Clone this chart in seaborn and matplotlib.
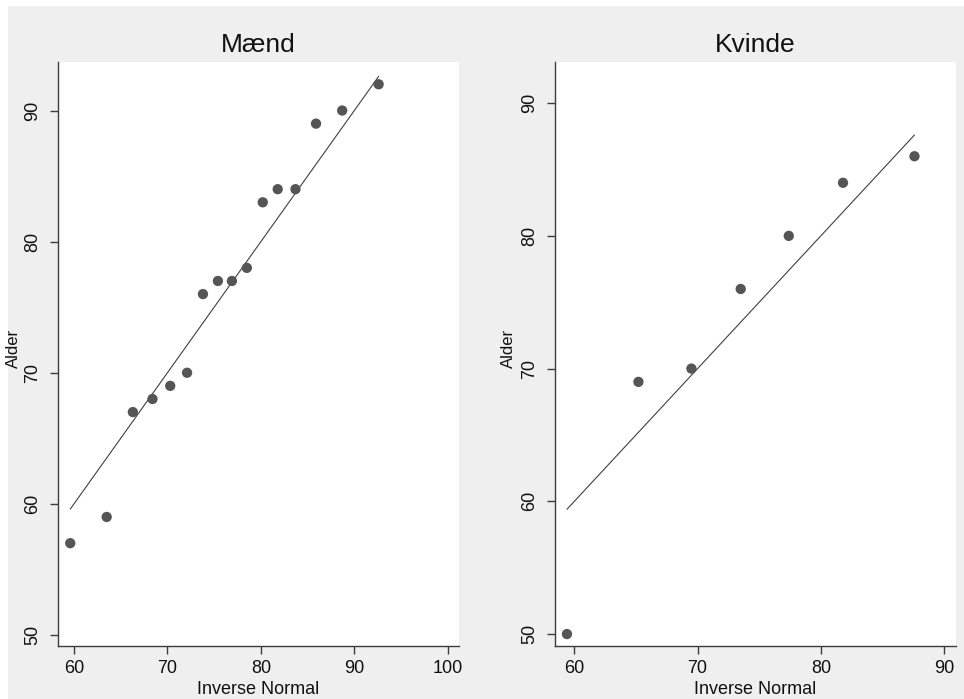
import matplotlib
matplotlib.use("Agg")
import matplotlib.pyplot as plt
import seaborn as sns
import pandas as pd
from matplotlib.patches import Rectangle

sns.set_theme(style="white")
plt.rcParams['font.family'] = ['Liberation Sans', 'DejaVu Sans']

# Data (normal quantile plots)
maend_inv_normal = [59.6, 63.5, 66.3, 68.4, 70.3, 72.1, 73.8, 75.4, 76.9, 78.5,
                    80.2, 81.8, 83.7, 85.9, 88.7, 92.6]
maend_alder = [57, 59, 67, 68, 69, 70, 76, 77, 77, 78, 83, 84, 84, 89, 90, 92]

kvinde_inv_normal = [59.4, 65.2, 69.5, 73.5, 77.4, 81.8, 87.6]
kvinde_alder = [50, 69, 70, 76, 80, 84, 86]

panel_titles = ["Mænd", "Kvinde"]
x_ticks = [[60, 70, 80, 90, 100], [60, 70, 80, 90]]
y_ticks = [50, 60, 70, 80, 90]

BG = "#EFEFEF"
W, H = 964, 699
fig = plt.figure(figsize=(W / 100, H / 100), dpi=100, facecolor=BG)
# white strips at the top and left edge
fig.patches.append(Rectangle((0, 1 - 6 / H), 1, 6 / H, transform=fig.transFigure,
                             facecolor="white", edgecolor="none", zorder=-1))
fig.patches.append(Rectangle((0, 0), 8 / W, 1, transform=fig.transFigure,
                             facecolor="white", edgecolor="none", zorder=-1))

def box(x0, x1, ytop, ybot):
    return [x0 / W, 1 - ybot / H, (x1 - x0) / W, (ybot - ytop) / H]

axes = [fig.add_axes(box(58, 459, 62, 646)), fig.add_axes(box(555, 956, 62, 646))]
xlims = [(58.29, 101.2), (58.43, 90.97)]
ylims = [(49.16, 93.7), (49.1, 93.1)]

datasets = [
    pd.DataFrame({"Inverse Normal": maend_inv_normal, "Alder": maend_alder}),
    pd.DataFrame({"Inverse Normal": kvinde_inv_normal, "Alder": kvinde_alder}),
]

spine_col = "#3c3c3c"
for i, ax in enumerate(axes):
    df = datasets[i]
    ax.set_facecolor("white")
    ref = pd.DataFrame({"x": [df["Inverse Normal"].min(), df["Inverse Normal"].max()]})
    ref["y"] = ref["x"]
    sns.lineplot(data=ref, x="x", y="y", ax=ax, color="#404040", linewidth=0.8,
                 zorder=2)
    sns.scatterplot(data=df, x="Inverse Normal", y="Alder", ax=ax, color="#555555",
                    s=55, edgecolor="none", zorder=3)
    ax.set_xlim(*xlims[i])
    ax.set_ylim(*ylims[i])
    ax.set_xticks(x_ticks[i])
    ax.set_yticks(y_ticks)
    for side in ["top", "right"]:
        ax.spines[side].set_visible(False)
    for side in ["left", "bottom"]:
        ax.spines[side].set_color(spine_col)
        ax.spines[side].set_linewidth(1.0)
    ax.tick_params(axis="both", which="major", direction="out", length=6, width=1,
                   color=spine_col, labelsize=13, labelcolor="#111111",
                   left=True, bottom=True, pad=4)
    ax.tick_params(axis="y", pad=6)
    for lab in ax.get_yticklabels():
        lab.set_rotation(90)
        lab.set_va("center")
    ax.set_title(panel_titles[i], fontsize=19, color="#111111", pad=7)
    ax.set_xlabel("Inverse Normal", fontsize=13, color="#111111", labelpad=3)
    ax.set_ylabel("Alder", fontsize=12, color="#111111")
    ax.yaxis.set_label_coords(-0.092 if i == 0 else -0.097, 0.51)
    ax.grid(False)

fig.savefig("out.png", dpi=100, facecolor=BG)
